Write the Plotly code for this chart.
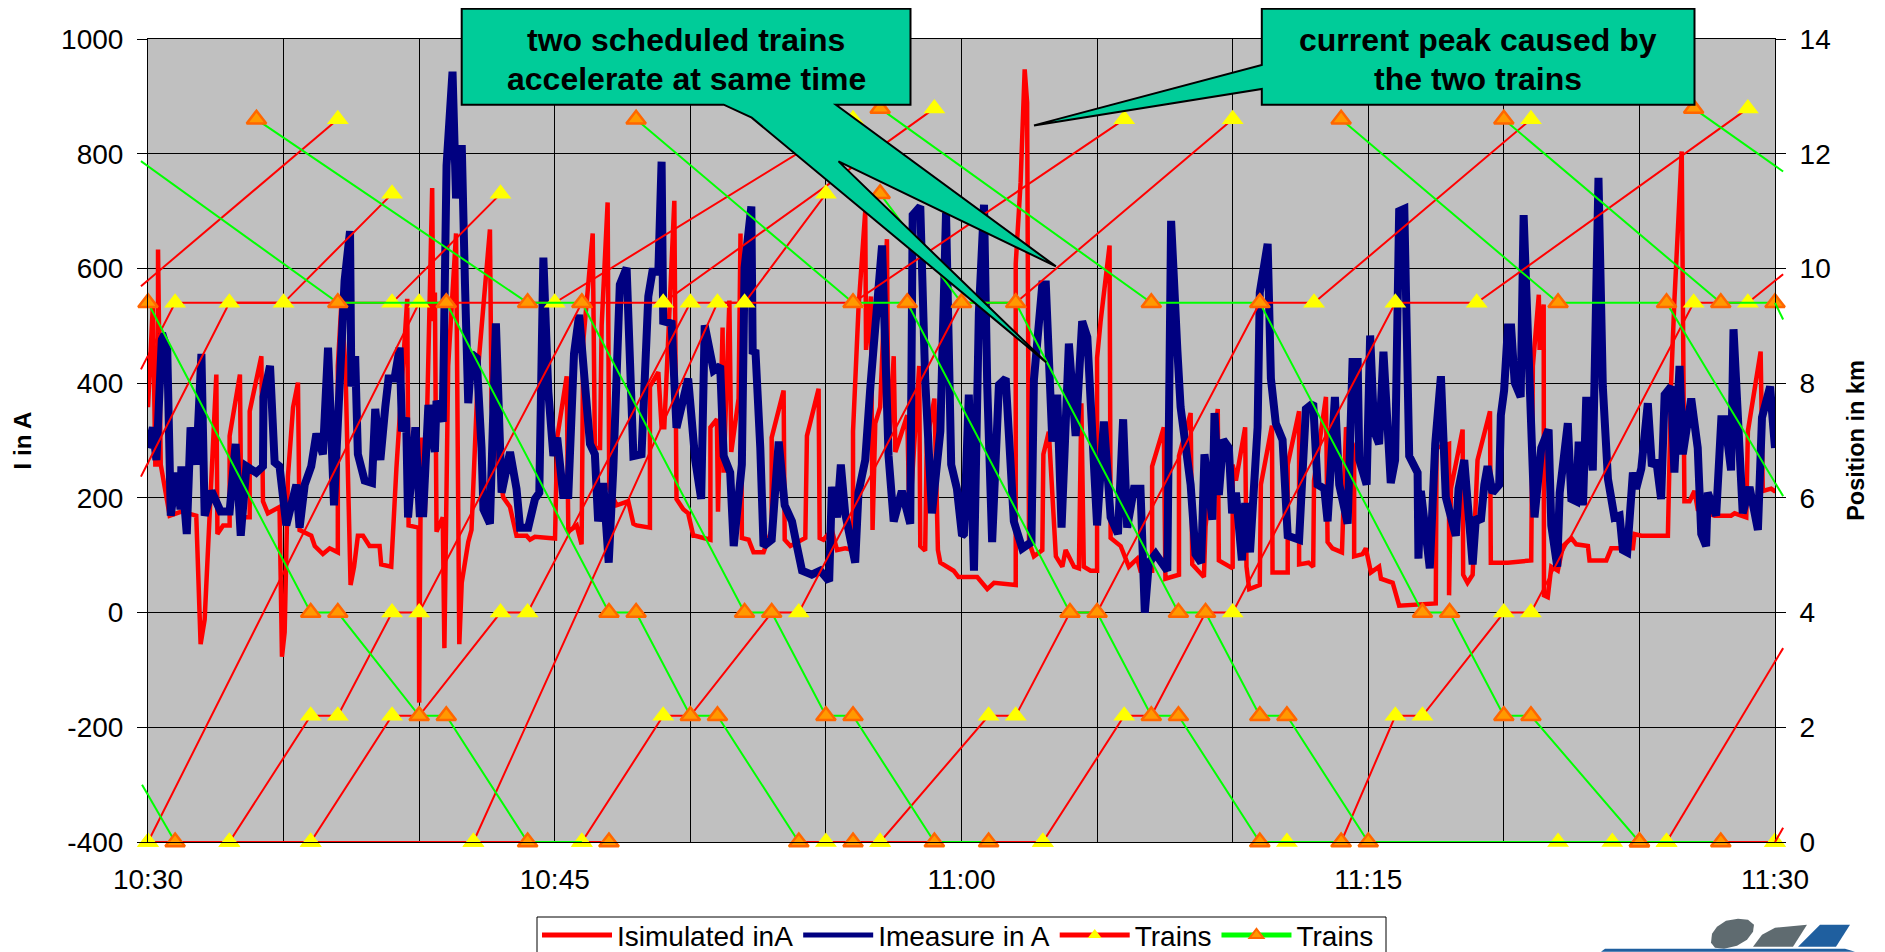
import plotly.graph_objects as go

# ---- data: minutes after 10:30, current in A ----
T_SIM = [0,.18,.27,.37,.37,.47,.80,1.23,1.78,1.94,2.09,2.52,2.56,2.77,3.01,3.01,3.39,3.44,3.75,3.75,4.18,4.24,4.42,4.85,4.94,5.04,5.16,5.35,5.53,5.59,6.02,6.15,6.45,6.70,7.0,7.0,7.13,7.28,7.47,7.60,7.74,7.93,8.17,8.54,8.60,8.97,9.16,9.34,9.56,9.61,9.98,10.0,10.07,10.21,10.48,10.52,10.58,10.64,10.87,10.93,11.07,11.36,11.48,11.57,11.81,11.93,12.18,12.61,12.67,12.83,13.10,13.35,13.59,13.96,14.09,14.27,15.01,15.09,15.44,15.50,15.81,15.99,16.05,16.40,16.48,16.67,16.73,16.95,17.01,17.28,17.71,17.90,18.02,18.51,18.51,18.82,18.94,19.04,19.41,19.49,19.74,19.92,20.11,
20.18,20.74,20.74,20.98,21.02,21.19,21.23,21.44,21.51,21.78,21.85,21.90,22.15,22.33,22.70,23.0,23.0,23.44,23.48,23.69,24.24,24.30,24.73,24.77,24.91,25.22,25.41,25.71,26.0,26.0,26.20,26.45,26.48,26.66,26.72,26.82,27.0,27.25,27.31,27.50,27.56,28.0,28.08,28.44,28.48,28.66,28.72,29.0,29.13,29.22,29.71,29.89,30.09,
30.58,30.95,31.20,32.0,32.0,32.18,32.33,32.42,32.49,32.67,32.98,33.02,33.22,33.48,33.72,33.84,34.15,34.33,34.42,34.51,34.76,35.0,35.0,35.13,35.46,35.50,35.87,36.17,36.48,36.60,37.03,37.03,37.46,37.52,38.02,38.02,38.45,38.51,38.94,39.0,39.45,39.49,40.0,40.0,40.12,40.46,40.51,40.61,41.0,41.04,41.45,41.47,42.03,42.03,42.45,42.45,42.80,42.97,43.0,43.44,43.50,43.68,44.03,44.18,44.48,44.48,44.79,44.91,45.10,45.40,45.47,45.90,46.14,47.49,47.52,47.98,47.98,48.05,48.48,48.50,48.66,48.85,49.03,49.49,49.52,50.15,
51.01,51.07,51.29,51.32,51.47,51.48,51.62,51.75,51.99,52.18,52.49,52.67,53.10,53.16,53.78,53.96,54.76,54.82,55.07,56.05,56.17,56.29,56.56,56.66,56.85,57.03,57.15,57.77,58.38,58.51,58.94,59.0,59.47,59.55,59.86,59.98,60.0]
I_SIM = [358,537,258,258,633,258,169,176,169,-55,-12,415,137,152,152,308,415,166,166,351,447,194,173,184,-77,-34,237,358,401,144,134,116,102,112,105,430,537,430,48,80,134,134,116,116,84,80,251,394,547,152,148,-157,305,173,740,508,558,141,166,-62,430,661,-55,52,123,144,430,668,358,287,201,184,134,134,127,132,129,305,412,141,152,119,472,661,287,287,501,715,216,187,194,155,152,148,394,419,323,323,718,198,180,173,134,
134,127,323,337,176,497,244,544,280,373,661,130,127,105,105,144,305,387,127,116,130,308,390,130,127,144,109,112,109,316,529,700,458,551,144,330,358,651,273,447,280,344,159,430,116,108,298,373,109,87,73,62,62,
62,41,52,48,608,750,947,889,123,98,109,276,315,98,80,109,80,77,365,80,73,73,444,508,640,130,116,80,94,73,73,255,323,59,66,273,348,84,62,150,355,91,77,258,230,323,80,41,48,223,326,70,70,258,351,84,87,80,230,376,123,112,105,323,287,98,102,112,70,80,59,52,12,16,287,294,30,216,319,66,52,66,266,351,87,87,
91,430,554,458,537,30,27,80,73,116,130,119,116,91,91,112,112,137,134,134,401,544,804,194,194,212,180,169,169,173,166,316,455,212,216,212,212]

T_MEAS = [0,.18,.31,.52,.71,.84,1.04,1.20,1.23,1.43,1.57,1.78,1.97,2.09,2.34,2.68,3.01,3.23,3.42,3.63,3.99,4.24,4.26,4.50,4.67,4.85,5.10,5.47,5.59,5.78,6.02,6.21,6.45,6.64,6.86,7.15,7.25,7.45,7.50,7.64,7.74,7.99,8.26,8.38,8.57,8.75,8.87,9.09,9.28,9.37,9.52,9.59,9.86,10.02,
10.15,10.34,10.58,10.64,10.87,11.01,11.11,11.23,11.36,11.57,11.69,11.81,11.93,12.12,12.30,12.37,12.61,12.83,13.04,13.35,13.59,13.72,14.02,14.27,14.43,14.58,14.76,14.95,15.09,15.31,15.50,15.56,15.71,15.90,16.11,16.30,16.48,16.60,16.79,16.99,17.16,17.40,17.65,17.90,18.20,18.45,18.60,18.82,18.94,19.0,19.31,19.49,19.92,
20.18,20.40,20.53,20.86,21.10,21.23,21.47,21.60,21.78,21.90,22.0,22.25,22.30,22.40,22.58,22.70,23.0,23.26,23.48,23.75,23.93,24.12,24.48,24.79,25.12,25.22,25.41,25.55,25.71,26.08,26.20,26.45,26.64,26.82,27.07,27.31,27.50,27.80,28.11,28.20,28.48,28.66,28.91,29.22,29.43,29.62,29.83,30.02,
30.09,30.27,30.46,30.64,30.83,30.95,31.13,31.38,31.63,31.93,32.24,32.58,32.67,32.98,33.11,33.35,33.53,33.69,33.96,34.21,34.45,34.64,34.82,35.0,35.25,35.50,35.77,35.96,36.11,36.36,36.60,36.76,36.91,37.16,37.59,37.73,37.96,38.08,38.45,38.63,38.84,38.96,39.25,39.33,39.49,39.65,39.86,39.98,
40.12,40.34,40.46,40.64,40.92,41.0,41.29,41.41,41.59,41.84,42.03,42.45,42.70,42.97,43.13,43.38,43.50,43.77,43.93,44.24,44.42,44.61,44.67,44.94,45.07,45.22,45.40,45.56,45.83,45.99,46.14,46.33,46.51,46.82,46.85,46.94,47.27,47.47,47.68,47.86,48.23,48.33,48.54,48.85,48.97,49.15,49.28,49.40,49.58,49.83,49.89,50.01,
50.15,50.27,50.40,50.62,50.73,50.89,51.01,51.13,51.38,51.65,51.75,51.97,52.06,52.36,52.49,52.67,52.76,52.92,53.04,53.28,53.49,53.65,53.84,54.08,54.27,54.39,54.55,54.76,54.88,55.07,55.31,55.46,55.62,55.80,55.93,56.17,56.29,56.48,56.60,56.91,57.15,57.28,57.46,57.52,57.83,58.02,58.15,58.38,58.47,58.63,58.81,59.06,59.37,59.52,59.82,59.92,60.0]
I_MEAS = [287,323,266,487,458,169,244,180,255,137,323,258,451,169,212,176,176,294,134,255,244,255,376,430,262,255,152,223,148,223,255,312,276,462,187,508,579,665,394,447,276,230,226,355,266,358,408,408,462,316,340,166,323,173,
173,362,280,369,333,779,879,943,722,815,572,365,451,444,287,180,155,504,209,280,216,148,148,198,209,619,387,273,305,205,205,308,451,519,408,294,276,159,226,87,251,572,601,273,276,551,594,594,786,508,504,322,408,
266,198,501,422,430,273,244,116,216,258,601,708,451,458,287,116,127,298,187,159,116,73,66,73,55,219,166,258,173,87,209,266,394,515,640,273,159,212,155,693,708,408,173,316,697,258,216,134,
137,380,73,522,711,394,123,397,408,159,112,123,405,572,572,298,380,148,469,308,508,480,287,152,333,166,137,337,148,216,216,0,87,102,73,683,458,358,223,102,87,276,162,348,205,301,287,173,
209,91,191,105,323,558,643,408,330,301,134,127,355,365,223,216,159,376,223,155,437,437,266,223,483,316,294,455,226,266,700,704,273,244,94,212,77,294,412,201,134,216,266,84,166,159,223,255,209,223,344,387,
497,497,401,376,693,515,358,166,287,319,152,80,209,330,198,194,298,187,376,248,758,394,233,166,169,109,105,244,216,251,365,255,266,198,380,394,244,430,276,373,287,137,116,209,169,337,337,248,494,337,173,219,144,340,394,333,287]

# minutes after 10:30, position in km; None separates trains
TRAIN_UP_T = [-.26,1,5,9,None,-.26,3,9,13,None,-.26,7,None,0,10,15,26,None,
              3,6,7,9,10,16,19,29,None,6,9,10,13,14,20,22,25,None,12,21,26,36,None,
              16,19,20,23,24,30,32,40,None,27,31,32,34,35,41,43,51,None,
              33,36,37,39,40,46,49,59,None,44,46,47,50,51,57,59,60.3,None,56,60.3,None,60,60.3,None,
              0,3,6,12,14,None,16,17,None,24,25,27,29,31,33,None,41,42,44,None,52,54,56,58,60]
TRAIN_UP_KM = [8.24,9.4,9.4,11.3,None,6.37,9.4,9.4,11.3,None,9.69,12.6,None,0,9.4,9.4,12.6,None,
               0,2.2,2.2,4,4,9.4,9.4,12.79,None,0,2.2,2.2,4,4,9.4,9.4,11.3,None,0,9.4,9.4,12.6,None,
               0,2.2,2.2,4,4,9.4,9.4,12.6,None,0,2.2,2.2,4,4,9.4,9.4,12.6,None,
               0,2.2,2.2,4,4,9.4,9.4,12.79,None,0,2.2,2.2,4,4,9.4,9.4,9.9,None,0,3.38,None,0,.25,None,
               0,0,0,0,0,None,0,0,None,0,0,0,0,0,0,None,0,0,0,None,0,0,0,0,0]
TRAIN_DOWN_T = [-.26,7,11,17,18,20,21,24,None,-.22,1,None,4,14,16,22,23,25,26,29,31,None,
                0,6,7,10,11,14,16,None,17,None,26,None,18,26,28,34,35,37,38,41,44,None,
                27,30,32,38,39,41,42,45,55,58,None,27,37,41,47,48,50,51,55,None,
                44,52,56,60.3,None,50,58,60,60.3,None,57,60.3]
TRAIN_DOWN_KM = [11.87,9.4,9.4,4,4,2.2,2.2,0,None,1,0,None,12.6,9.4,9.4,4,4,2.2,2.2,0,0,None,
                 9.4,4,4,2.2,2.2,0,0,None,0,None,0,None,12.6,9.4,9.4,4,4,2.2,2.2,0,0,None,
                 11.3,9.4,9.4,4,4,2.2,2.2,0,0,0,None,12.79,9.4,9.4,4,4,2.2,2.2,0,None,
                 12.6,9.4,9.4,6.03,None,12.6,9.4,9.4,9.11,None,12.79,11.69]
DOWN_VERTEX_WITHOUT_MARKER = (16, 0)

X_GRID = list(range(0, 61, 5))
X_LABELS = ["10:30", "", "", "10:45", "", "", "11:00", "", "", "11:15", "", "", "11:30"]
I_TICKS = list(range(-400, 1001, 200))
I_LABELS = [str(v) for v in I_TICKS]
KM_TICKS = list(range(0, 15, 2))
KM_LABELS = [str(v) for v in KM_TICKS]
X_MAX, KM_MAX = 60, 14

NAMES = ["Isimulated inA", "Imeasure in A", "Trains", "Trains"]

# ---- page geometry (the page body adds 8 px top and left) ----
W, H = 1885, 952
PAGE = 8
L, R, T, B = 148, 1775, 39.3, 842.3
FONT = "Liberation Sans, Arial, sans-serif"
TICK_SIZE = 28

def px(x):
    return (x - L) / (R - L)
def py(y):
    return (B - y) / (B - T)
def path(points, close=True):
    s = "M " + " L ".join(f"{px(a):.5f},{py(b):.5f}" for a, b in points)
    return s + (" Z" if close else "")

def overhangs(ts, kms, colour):
    """Excel lets the train lines run a little past the plot frame: draw those ends unclipped."""
    out = []
    for t0, k0, t1, k1 in zip(ts, kms, ts[1:], kms[1:]):
        if None in (t0, t1):
            continue
        for edge in (0, X_MAX):
            outside0 = t0 < edge if edge == 0 else t0 > edge
            outside1 = t1 < edge if edge == 0 else t1 > edge
            if outside0 == outside1:
                continue
            k_edge = k0 + (k1 - k0) * (edge - t0) / (t1 - t0)
            te, ke = (t0, k0) if outside0 else (t1, k1)
            out.append(dict(type="line", xref="paper", yref="paper", x0=te / X_MAX, y0=ke / KM_MAX,
                            x1=edge / X_MAX, y1=k_edge / KM_MAX, layer="above",
                            line=dict(color=colour, width=2)))
    return out

fig = go.Figure()
fig.add_trace(go.Scatter(x=T_SIM, y=I_SIM, name=NAMES[0], mode="lines",
                         line=dict(color="#FF0000", width=4.5)))
fig.add_trace(go.Scatter(x=T_MEAS, y=I_MEAS, name=NAMES[1], mode="lines",
                         line=dict(color="#000080", width=8)))
fig.add_trace(go.Scatter(x=TRAIN_UP_T, y=TRAIN_UP_KM, name=NAMES[2], mode="lines+markers", yaxis="y2",
                         cliponaxis=False, connectgaps=False,
                         line=dict(color="#FF0000", width=2),
                         marker=dict(symbol="triangle-up", size=19, color="#FFFF00", line=dict(width=0))))
down_sizes = [0 if (a, b) == DOWN_VERTEX_WITHOUT_MARKER else 17 for a, b in zip(TRAIN_DOWN_T, TRAIN_DOWN_KM)]
fig.add_trace(go.Scatter(x=TRAIN_DOWN_T, y=TRAIN_DOWN_KM, name=NAMES[3], mode="lines+markers", yaxis="y2",
                         cliponaxis=False, connectgaps=False,
                         line=dict(color="#00FF00", width=2),
                         marker=dict(symbol="triangle-up", size=down_sizes, color="#FF9900", opacity=1,
                                     line=dict(color="#FF6600", width=2.5))))

GREEN = "#00CC99"
callout_1 = [(461.7, 9), (910.5, 9), (910.5, 105), (835.9, 105), (1055.9, 266.7), (838.5, 161.7),
             (1046.3, 362.7), (751.7, 118), (723.7, 105), (461.7, 105)]
callout_2 = [(1261.8, 9), (1694.5, 9), (1694.5, 105), (1261.8, 105), (1261.8, 89.3), (1034, 125.7),
             (1261.8, 65.3)]
shapes = overhangs(TRAIN_UP_T, TRAIN_UP_KM, "#FF0000") + overhangs(TRAIN_DOWN_T, TRAIN_DOWN_KM, "#00FF00")
shapes += [dict(type="path", xref="paper", yref="paper", path=path(c), fillcolor=GREEN,
                line=dict(color="#000000", width=2), layer="above") for c in (callout_1, callout_2)]
# legend frame, cut off by the bottom of the page
shapes.append(dict(type="rect", xref="paper", yref="paper", x0=px(537), x1=px(1386), y0=py(965), y1=py(917.3),
                   line=dict(color="#000000", width=1), fillcolor="rgba(0,0,0,0)", layer="above"))
# logo, cut off by the bottom of the page
logo_grey = "#5F6B70"
logo_blue = "#1F5F9F"
shapes += [
    dict(type="path", xref="paper", yref="paper", fillcolor=logo_grey, line=dict(width=0),
         path=path([(1711, 943), (1712, 934), (1717, 927), (1726, 921), (1738, 919), (1748, 920), (1754, 925),
                    (1753, 932), (1747, 940), (1737, 946), (1724, 949), (1715, 948)])),
    dict(type="path", xref="paper", yref="paper", fillcolor=logo_grey, line=dict(width=0),
         path=path([(1753, 947), (1762, 935), (1775, 928), (1807, 925), (1793, 947)])),
    dict(type="path", xref="paper", yref="paper", fillcolor=logo_blue, line=dict(width=0),
         path=path([(1798, 947), (1820, 925), (1850, 925), (1836, 947)])),
    dict(type="path", xref="paper", yref="paper", fillcolor=logo_blue, line=dict(width=0),
         path=path([(1601, 952), (1605, 949), (1845, 949), (1855, 952)])),
]

annotations = []
for text, cx, lines_y in (("two scheduled trains", 686, 40), ("accelerate at same time", 686, 79),
                          ("current peak caused by", 1478, 40), ("the two trains", 1478, 79)):
    annotations.append(dict(text=f"<b>{text}</b>", xref="paper", yref="paper", x=px(cx), y=py(lines_y),
                            showarrow=False, xanchor="center", yanchor="middle",
                            font=dict(family=FONT, size=32, color="#000000")))

EXTRA_BELOW = 40  # the figure runs past the window, so the legend frame is cut by the page bottom as in the reference
fig.update_layout(
    width=W - PAGE, height=H - PAGE + EXTRA_BELOW, autosize=False,
    margin=dict(l=L - PAGE, r=W - R, t=T - PAGE, b=H - B + EXTRA_BELOW, pad=0),
    paper_bgcolor="#FFFFFF", plot_bgcolor="#C0C0C0",
    font=dict(family=FONT, size=TICK_SIZE, color="#000000"),
    showlegend=True,
    legend=dict(orientation="h", xref="paper", yref="paper", x=px(537), y=py(910.5),
                xanchor="left", yanchor="top", bgcolor="rgba(0,0,0,0)", borderwidth=0,
                font=dict(size=28), itemwidth=70, traceorder="normal", itemsizing="constant"),
    xaxis=dict(range=[0, X_MAX], tickmode="array", tickvals=X_GRID, ticktext=X_LABELS, ticks="",
               showgrid=True, gridcolor="#000000", gridwidth=1, zeroline=False, ticklabelstandoff=12,
               showline=True, linecolor="#000000", linewidth=1, mirror=True, tickfont=dict(size=TICK_SIZE)),
    yaxis=dict(range=[-400, 1000], tickmode="array", tickvals=I_TICKS, ticktext=I_LABELS,
               ticks="outside", ticklen=10, ticklabelstandoff=8,
               tickcolor="#000000", showgrid=True, gridcolor="#000000", gridwidth=1, zeroline=False,
               showline=True, linecolor="#000000", linewidth=1,
               title=dict(text="<b>I in A</b>", font=dict(size=24), standoff=22), tickfont=dict(size=TICK_SIZE)),
    yaxis2=dict(range=[0, KM_MAX], overlaying="y", side="right", tickmode="array", tickvals=KM_TICKS,
                ticktext=KM_LABELS, ticks="outside", ticklen=10, ticklabelstandoff=8,
                tickcolor="#000000", showgrid=False, zeroline=False,
                showline=True, linecolor="#000000", linewidth=1,
                title=dict(text="<b>Position in km</b>", font=dict(size=23.5), standoff=17), tickfont=dict(size=TICK_SIZE)),
    shapes=shapes, annotations=annotations,
)
fig.write_html("out.html")
